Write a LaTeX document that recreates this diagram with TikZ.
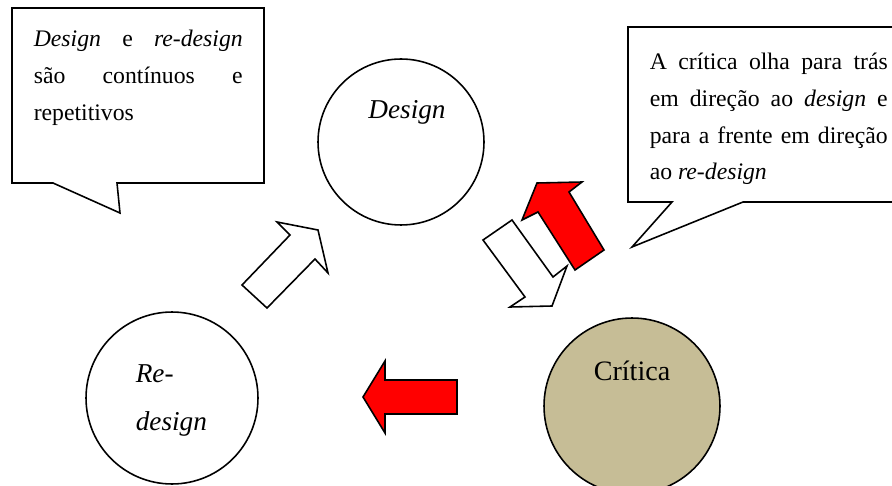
\documentclass[tikz,border=0pt]{standalone}
\usepackage{fontspec}
\setmainfont{Liberation Serif}
\definecolor{criticatan}{RGB}{198,189,150}
\newcommand{\callfont}{\fontsize{13.5}{21}\selectfont}
\newcommand{\circfont}{\fontsize{15.5}{27}\selectfont}

\begin{document}
\begin{tikzpicture}[x=0.02cm, y=-0.02cm, line width=0.9pt, font=\callfont,
    whitearrow/.style={draw=black, fill=white, line join=miter},
    redarrow/.style={draw=black, fill=red, line join=miter},
    txt/.style={inner sep=0pt, align=left}]
    \useasboundingbox (0,0) rectangle (892,486);
    % circles
    \node[draw, circle, minimum size=3.32cm, inner sep=0pt] (design) at (401,142) {};
    \node[draw, circle, minimum size=3.44cm, inner sep=0pt] (redesign) at (172,398) {};
    \node[draw, circle, fill=criticatan, minimum size=3.52cm, inner sep=0pt] (critica) at (632,406) {};
    \node[anchor=base, font=\circfont] (designlbl) at (407,119) {\textit{Design}};
    \node[txt, anchor=north west, font=\circfont] (redesignlbl) at (135,364) {\textit{Re-}\\\textit{design}};
    \node[anchor=base, font=\fontsize{16}{20}\selectfont] (criticalbl) at (632,380) {Crítica};
    % callouts
    \draw[fill=white] (12,8) -- (264,8) -- (264,183) -- (117,183) -- (120,213)
        -- (53,183) -- (12,183) -- cycle;
    \node[txt, anchor=north west] (lefttxt) at (33,29) {%
        \makebox[4.18cm][s]{\textit{Design} e \textit{re-design}}\\
        \makebox[4.18cm][s]{são contínuos e}\\
        repetitivos};
    \draw[fill=white] (628,27) -- (910,27) -- (910,202) -- (743,202) -- (632,247)
        -- (672,202) -- (628,202) -- cycle;
    \node[txt, anchor=north west] (righttxt) at (649,52) {%
        \makebox[4.76cm][s]{A crítica olha para trás}\\
        \makebox[4.76cm][s]{em direção ao \textit{design} e}\\
        \makebox[4.76cm][s]{para a frente em direção}\\
        ao \textit{re-design}};
    % block arrows
    \draw[whitearrow] (242,285) -- (290,235) -- (277,222) -- (318,230) -- (328,273)
        -- (315,259) -- (267,308) -- cycle;
    \draw[redarrow] (575,270) -- (604,250) -- (569,192) -- (582,182) -- (537,183)
        -- (522,220) -- (538,212) -- cycle;
    \draw[whitearrow] (483,240) -- (512,220) -- (553,277) -- (567,266) -- (552,306)
        -- (510,307) -- (525,297) -- cycle;
    \draw[redarrow] (363,397) -- (385,361) -- (385,380) -- (457,380) -- (457,414)
        -- (385,414) -- (385,433) -- cycle;
\end{tikzpicture}
\end{document}
